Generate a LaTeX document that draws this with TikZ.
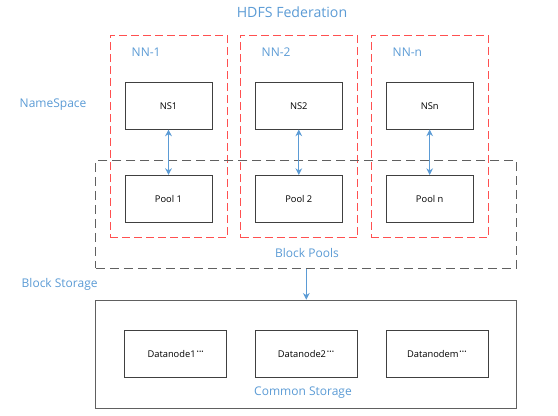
\documentclass[tikz,border=0pt]{standalone}
\usepackage{fontspec}
\setmainfont{Open Sans}
\usepackage{tikz}
\usetikzlibrary{arrows.meta}
\definecolor{lblue}{HTML}{5B9BD5}
\definecolor{nnred}{HTML}{FF5050}
\definecolor{dgray}{HTML}{606060}
\tikzset{every node/.append style={font=\footnotesize}}
\newcommand{\dnmore}{\raisebox{0.45ex}{\footnotesize\kern0.5pt\textperiodcentered\kern-0.3pt\textperiodcentered\kern-0.3pt\textperiodcentered}}

\begin{document}
\begin{tikzpicture}[x=0.75pt, y=-0.75pt, >={Stealth[length=5pt,width=5pt]}]
    \useasboundingbox (0,0) rectangle (558,416);
    \tikzset{
      box/.style={draw=black!75, line width=0.75pt, minimum width=65.25pt, minimum height=35pt, font=\scriptsize},
      nnbox/.style={draw=nnred, line width=0.75pt, dash pattern=on 6pt off 3pt, minimum width=87.75pt, minimum height=152pt},
      bluetext/.style={text=lblue, font=\small},
      link/.style={lblue, line width=0.75pt}
    }
    % title
    \node[bluetext, font=\fontsize{10.6}{12}\selectfont] (title) at (292,12) {HDFS Federation};
    % one NN container per namespace
    \node[nnbox] (nn1) at (168.5,136.5) {};
    \node[nnbox] (nn2) at (299,136.5) {};
    \node[nnbox] (nnn) at (429.7,136.5) {};
    \node[bluetext, anchor=west] (nn1lab) at (127,52) {NN-1};
    \node[bluetext, anchor=west] (nn2lab) at (257,52) {NN-2};
    \node[bluetext, anchor=west] (nnnlab) at (388,52) {NN-n};
    \node[bluetext, anchor=west] (nslab) at (15,105) {NameSpace};
    % block pools frame
    \node[draw=dgray, line width=0.75pt, dash pattern=on 7pt off 3.5pt, minimum width=315.5pt, minimum height=81pt] (pools) at (306.3,214.2) {};
    \node[bluetext] (poolslab) at (307,253) {Block Pools};
    % namespaces and pools
    \node[box] (ns1) at (168.5,105.7) {NS1};
    \node[box] (ns2) at (298.8,105.7) {NS2};
    \node[box] (nsn) at (429.7,105.7) {NSn};
    \node[box] (pool1) at (168.5,198.8) {Pool 1};
    \node[box] (pool2) at (298.8,198.8) {Pool 2};
    \node[box] (pooln) at (429.7,198.8) {Pool n};
    \draw[link, <->] (ns1) -- (pool1);
    \draw[link, <->] (ns2) -- (pool2);
    \draw[link, <->] (nsn) -- (pooln);
    % storage
    \node[bluetext, anchor=west] (bslab) at (17,284) {Block Storage};
    \node[draw=dgray, line width=0.75pt, minimum width=315.5pt, minimum height=81pt] (storage) at (306.3,354.2) {};
    \node[box, minimum width=76.5pt] (dn1) at (175.8,354) {Datanode1\dnmore};
    \node[box, minimum width=76.5pt] (dn2) at (306.2,354) {Datanode2\dnmore};
    \node[box, minimum width=76.5pt] (dnm) at (437,354) {Datanodem\dnmore};
    \node[bluetext] (cslab) at (303,393) {Common Storage};
    \draw[link, ->] (pools) -- (storage);
\end{tikzpicture}
\end{document}
